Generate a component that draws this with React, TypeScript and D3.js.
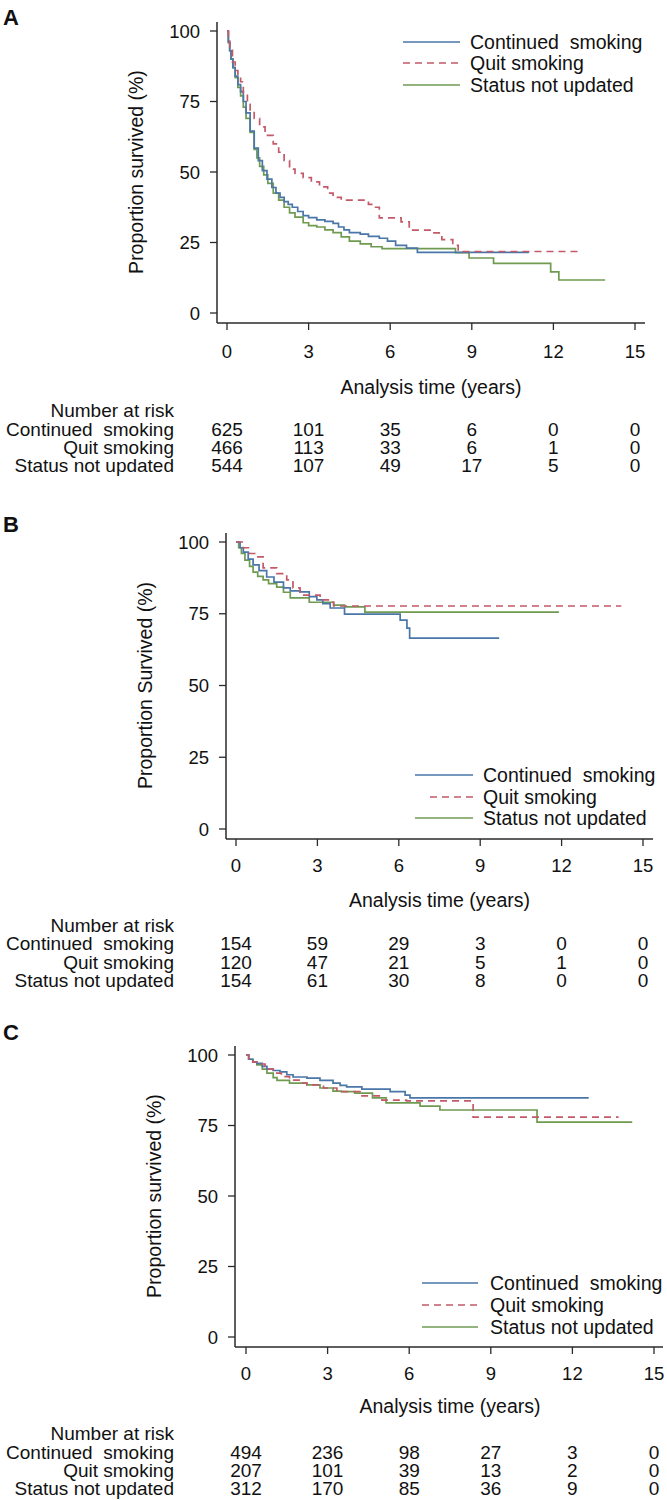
import React from 'react';
import * as d3 from 'd3';

// ---------- shared categories / ticks ----------
const TIME_TICKS = [0, 3, 6, 9, 12, 15];
const SURV_TICKS = [0, 25, 50, 75, 100];
const GROUP_LABELS = ['Continued  smoking', 'Quit smoking', 'Status not updated'];
const AXIS_X_TITLE = 'Analysis time (years)';
const RISK_TITLE = 'Number at risk';

// ---------- Panel A: survival curves [time, % survived] ----------
const aContinued = [
  [0, 100], [0.05, 96], [0.1, 93], [0.15, 90], [0.22, 87], [0.3, 84], [0.4, 81], [0.5, 78.5],
  [0.6, 75], [0.7, 71], [0.85, 64.5], [1.0, 58.5], [1.15, 54], [1.3, 50.5], [1.47, 47.5],
  [1.65, 44.5], [1.8, 42.5], [1.95, 41], [2.1, 39.5], [2.25, 38.5], [2.4, 37.5], [2.6, 36],
  [2.8, 34.5], [3.0, 33.8], [3.3, 33], [3.6, 32.5], [3.9, 31.8], [4.1, 30.5], [4.3, 29.5],
  [4.5, 28.5], [4.9, 28], [5.2, 27.2], [5.6, 26.5], [5.9, 25.5], [6.2, 24], [6.6, 23],
  [7.0, 21.5], [11.1, 21.5],
];
const aQuit = [
  [0, 100], [0.05, 97], [0.1, 94], [0.2, 89], [0.3, 86], [0.4, 84], [0.5, 82], [0.6, 78],
  [0.75, 74], [0.85, 72], [1.0, 69], [1.2, 66], [1.4, 63], [1.7, 60], [1.9, 57], [2.1, 54],
  [2.3, 51], [2.5, 49.5], [2.8, 48], [3.1, 46.5], [3.4, 44.7], [3.7, 42.5], [3.9, 41],
  [4.2, 40], [5.0, 40], [5.2, 38.5], [5.4, 37.5], [5.6, 33.7], [6.4, 32.3], [6.7, 29.4],
  [7.5, 28.4], [7.9, 26], [8.3, 24], [8.5, 21.8], [12.9, 21.8],
];
const aStatus = [
  [0, 100], [0.05, 96], [0.1, 93], [0.15, 90], [0.22, 87], [0.3, 83.5], [0.4, 80], [0.5, 77],
  [0.6, 73], [0.7, 69], [0.85, 64], [1.0, 58], [1.1, 55], [1.2, 52], [1.35, 49], [1.5, 46],
  [1.7, 42.5], [1.9, 40], [2.1, 37.5], [2.3, 35.5], [2.5, 34], [2.8, 32], [3.0, 31],
  [3.3, 30.5], [3.6, 29.5], [3.9, 28.5], [4.2, 27], [4.5, 25.5], [4.9, 24.5], [5.3, 23.5],
  [5.7, 22.8], [8.4, 21.4], [8.9, 19.5], [9.8, 17.6], [11.9, 14.6], [12.2, 11.7], [13.9, 11.7],
];
const aRiskContinued = [625, 101, 35, 6, 0, 0];
const aRiskQuit = [466, 113, 33, 6, 1, 0];
const aRiskStatus = [544, 107, 49, 17, 5, 0];

// ---------- Panel B ----------
const bContinued = [
  [0, 100], [0.15, 98], [0.27, 96.5], [0.45, 94], [0.63, 92], [0.85, 90], [1.13, 87.8],
  [1.4, 86], [1.75, 84], [2.0, 83], [2.36, 82.6], [2.7, 81], [2.98, 79.8], [3.2, 78.5],
  [3.47, 77], [4.0, 74.9], [6.05, 72.8], [6.3, 70], [6.4, 66.5], [9.7, 66.5],
];
const bQuit = [
  [0, 100], [0.27, 98], [0.5, 96], [0.76, 94.8], [1.0, 91], [1.5, 89], [1.87, 86.8],
  [2.1, 84], [2.36, 81.5], [3.1, 79.8], [3.4, 79], [3.6, 77.7], [14.2, 77.7],
];
const bStatus = [
  [0, 100], [0.1, 98], [0.2, 96], [0.33, 93.7], [0.5, 91.5], [0.63, 89.5], [0.8, 88],
  [1.0, 86.8], [1.2, 85.5], [1.5, 84.3], [1.75, 82.5], [2.0, 80.5], [2.7, 79], [3.6, 78],
  [4.0, 77.4], [4.75, 75.6], [11.9, 75.6],
];
const bRiskContinued = [154, 59, 29, 3, 0, 0];
const bRiskQuit = [120, 47, 21, 5, 1, 0];
const bRiskStatus = [154, 61, 30, 8, 0, 0];

// ---------- Panel C ----------
const cContinued = [
  [0, 100], [0.1, 98.5], [0.25, 97.5], [0.4, 97], [0.6, 96], [0.77, 95], [1.0, 94.5],
  [1.25, 94], [1.5, 93], [1.73, 92.2], [2.24, 91.8], [2.72, 91], [3.2, 90], [3.46, 89.2],
  [3.7, 88.7], [4.26, 87.9], [5.3, 87], [5.85, 85.8], [6.03, 84.8], [12.6, 84.8],
];
const cQuit = [
  [0, 100], [0.1, 98.5], [0.25, 97.5], [0.4, 96.8], [0.7, 95], [1.0, 93.6], [1.3, 92.3],
  [1.6, 91.1], [2.0, 90], [2.24, 89.4], [2.85, 88.3], [3.34, 87], [4.2, 85.5], [5.0, 84],
  [5.9, 83.7], [8.35, 78], [13.7, 78],
];
const cStatus = [
  [0, 100], [0.1, 98.5], [0.25, 97.5], [0.4, 96.5], [0.6, 95], [0.77, 93.6], [1.0, 92],
  [1.14, 91], [1.6, 90], [2.24, 89.4], [2.72, 88.3], [3.2, 87.2], [3.5, 87], [4.0, 86.5],
  [4.65, 84.8], [5.15, 83], [6.4, 81.9], [7.13, 80.5], [10.7, 76.2], [14.2, 76.2],
];
const cRiskContinued = [494, 236, 98, 27, 3, 0];
const cRiskQuit = [207, 101, 39, 13, 2, 0];
const cRiskStatus = [312, 170, 85, 36, 9, 0];

// ---------- styles ----------
const COLORS = ['#4a76a8', '#c25a68', '#6f9b50'];
const DASHES = [null, '7,5', null];
const FONT = '"Liberation Sans", Arial, Helvetica, sans-serif';
const AXIS_COLOR = '#2a2a2a';

const PANELS = [
  {
    label: 'A', labelY: 25, yTitle: 'Proportion survived (%)',
    series: [aContinued, aQuit, aStatus], risk: [aRiskContinued, aRiskQuit, aRiskStatus],
    yAxisX: 217, xAxisY: 323, xRange: [227, 635], yRange: [313, 31], axisEnd: 645,
    legendYs: [42, 63, 85], legendLine: [403, 460], dashStart: 403, legendTextX: 470,
    tickLabelY: 351, titleY: 387, narY: 410, rowYs: [429, 447, 465],
  },
  {
    label: 'B', labelY: 532, yTitle: 'Proportion Survived (%)',
    series: [bContinued, bQuit, bStatus], risk: [bRiskContinued, bRiskQuit, bRiskStatus],
    yAxisX: 226, xAxisY: 839, xRange: [236, 643], yRange: [829, 542], axisEnd: 653,
    legendYs: [775, 797, 818], legendLine: [415, 473], dashStart: 430, legendTextX: 483,
    tickLabelY: 865, titleY: 900, narY: 925, rowYs: [943, 962, 980],
  },
  {
    label: 'C', labelY: 1040, yTitle: 'Proportion survived (%)',
    series: [cContinued, cQuit, cStatus], risk: [cRiskContinued, cRiskQuit, cRiskStatus],
    yAxisX: 235, xAxisY: 1347, xRange: [246, 654], yRange: [1337, 1055], axisEnd: 663,
    legendYs: [1283, 1305, 1327], legendLine: [422, 478], dashStart: 422, legendTextX: 490,
    tickLabelY: 1373, titleY: 1406, narY: 1433, rowYs: [1452, 1470, 1488],
  },
];

function Panel({ p }: { p: any }) {
  const x = d3.scaleLinear().domain([0, 15]).range(p.xRange);
  const y = d3.scaleLinear().domain([0, 100]).range(p.yRange);
  const line = d3
    .line<number[]>()
    .x((d) => x(d[0]))
    .y((d) => y(d[1]))
    .curve(d3.curveStepAfter);
  const rowLabelX = 174;
  const midX = (p.xRange[0] + p.xRange[1]) / 2;
  return (
    <g fontFamily={FONT} fill="#111">
      <text x={3} y={p.labelY} fontSize={22} fontWeight="bold">{p.label}</text>

      {/* y axis */}
      <line x1={p.yAxisX} x2={p.yAxisX} y1={y(100) - 9} y2={p.xAxisY} stroke={AXIS_COLOR} strokeWidth={1.5} />
      {SURV_TICKS.map((v) => (
        <g key={v}>
          <line x1={p.yAxisX - 7} x2={p.yAxisX} y1={y(v)} y2={y(v)} stroke={AXIS_COLOR} strokeWidth={1.3} />
          <text x={p.yAxisX - 17} y={y(v)} dy="0.36em" textAnchor="end" fontSize={18.5}>{v}</text>
        </g>
      ))}
      <text
        transform={`translate(${p.yAxisX - 81},${y(50)}) rotate(-90)`}
        textAnchor="middle" dy="0.36em" fontSize={19.5}
      >
        {p.yTitle}
      </text>

      {/* x axis */}
      <line x1={p.yAxisX} x2={p.axisEnd} y1={p.xAxisY} y2={p.xAxisY} stroke={AXIS_COLOR} strokeWidth={1.5} />
      {TIME_TICKS.map((t) => (
        <g key={t}>
          <line x1={x(t)} x2={x(t)} y1={p.xAxisY} y2={p.xAxisY + 7} stroke={AXIS_COLOR} strokeWidth={1.3} />
          <text x={x(t)} y={p.tickLabelY} dy="0.36em" textAnchor="middle" fontSize={18.5}>{t}</text>
        </g>
      ))}
      <text x={midX} y={p.titleY} dy="0.36em" textAnchor="middle" fontSize={19.5}>{AXIS_X_TITLE}</text>

      {/* curves: draw green, blue, then red dashed on top */}
      {[2, 0, 1].map((i) => (
        <path
          key={i}
          d={line(p.series[i] as number[][]) || ''}
          fill="none"
          stroke={COLORS[i]}
          strokeWidth={1.7}
          strokeDasharray={DASHES[i] || undefined}
        />
      ))}

      {/* legend */}
      {GROUP_LABELS.map((g, i) => (
        <g key={g}>
          <line
            x1={DASHES[i] ? p.dashStart : p.legendLine[0]} x2={p.legendLine[1]}
            y1={p.legendYs[i]} y2={p.legendYs[i]}
            stroke={COLORS[i]} strokeWidth={1.7} strokeDasharray={DASHES[i] || undefined}
          />
          <text x={p.legendTextX} y={p.legendYs[i]} dy="0.36em" fontSize={19.5} style={{ whiteSpace: 'pre' }}>
            {g}
          </text>
        </g>
      ))}

      {/* number at risk table */}
      <text x={rowLabelX} y={p.narY} dy="0.36em" textAnchor="end" fontSize={19}>{RISK_TITLE}</text>
      {GROUP_LABELS.map((g, i) => (
        <g key={g}>
          <text x={rowLabelX} y={p.rowYs[i]} dy="0.36em" textAnchor="end" fontSize={19} style={{ whiteSpace: 'pre' }}>
            {g}
          </text>
          {(p.risk[i] as number[]).map((n, j) => (
            <text key={j} x={x(TIME_TICKS[j])} y={p.rowYs[i]} dy="0.36em" textAnchor="middle" fontSize={19}>
              {n}
            </text>
          ))}
        </g>
      ))}
    </g>
  );
}

export default function App() {
  return (
    <svg
      width={667}
      height={1500}
      viewBox="0 0 667 1500"
      style={{ position: 'absolute', left: 0, top: 0, background: '#fff' }}
    >
      <rect width={667} height={1500} fill="#fff" />
      {PANELS.map((p) => (
        <Panel key={p.label} p={p} />
      ))}
    </svg>
  );
}
